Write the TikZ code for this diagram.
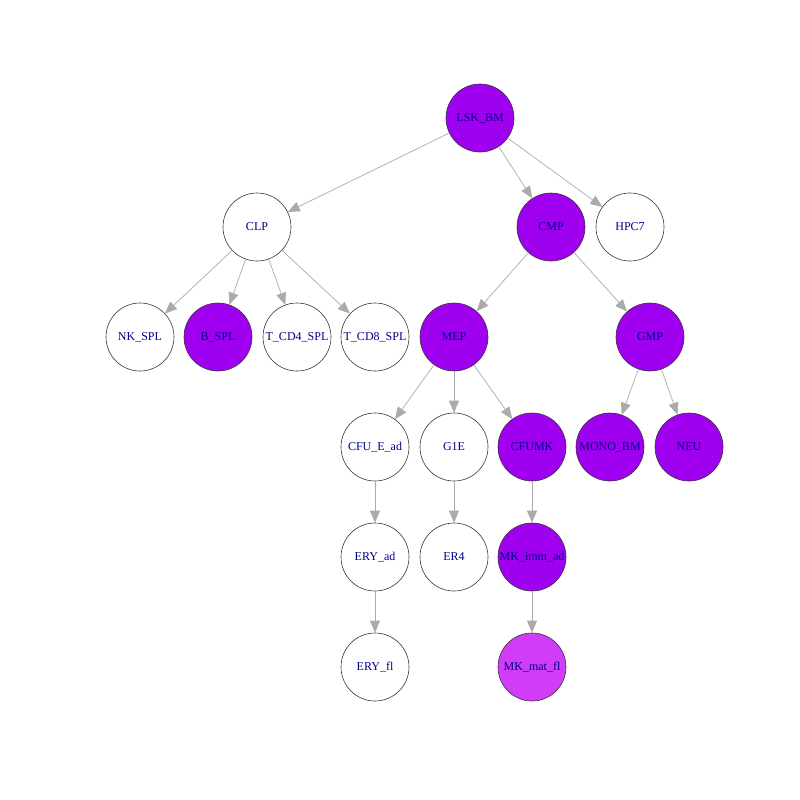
\documentclass[tikz,border=0pt]{standalone}
\usepackage{fontspec}
\setmainfont{Liberation Serif}
\usetikzlibrary{arrows.meta}
\definecolor{vpurple}{HTML}{A000F0}
\definecolor{vpink}{HTML}{D03CF8}
\definecolor{vlabel}{HTML}{00008B}
\definecolor{vedge}{HTML}{ABABAB}
\begin{document}
\begin{tikzpicture}[x=1pt,y=-1pt,
  cell/.style={circle,draw=black!80,line width=0.6pt,minimum size=68pt,inner sep=0pt,
    font=\fontsize{12}{12}\selectfont,text=vlabel,fill=white},
  hot/.style={cell,fill=vpurple},
  warm/.style={cell,fill=vpink},
  link/.style={draw=vedge,line width=0.7pt,-{Triangle[length=12pt,width=10pt]}}]
\useasboundingbox (0,0) rectangle (800,800);
\node[hot]  (lsk)  at (480,118) {LSK\_BM};
\node[cell] (clp)  at (257,227) {CLP};
\node[hot]  (cmp)  at (551,227) {CMP};
\node[cell] (hpc)  at (630,227) {HPC7};
\node[cell] (nk)   at (140,337) {NK\_SPL};
\node[hot]  (bspl) at (218,337) {B\_SPL};
\node[cell] (cd4)  at (297,337) {T\_CD4\_SPL};
\node[cell] (cd8)  at (375,337) {T\_CD8\_SPL};
\node[hot]  (mep)  at (454,337) {MEP};
\node[hot]  (gmp)  at (650,337) {GMP};
\node[cell] (cfue) at (375,447) {CFU\_E\_ad};
\node[cell] (gie)  at (454,447) {G1E};
\node[hot]  (cfumk) at (532,447) {CFUMK};
\node[hot]  (mono) at (610,447) {MONO\_BM};
\node[hot]  (neu)  at (689,447) {NEU};
\node[cell] (eryad) at (375,557) {ERY\_ad};
\node[cell] (erf)  at (454,557) {ER4};
\node[hot]  (mkimm) at (532,557) {MK\_imm\_ad};
\node[cell] (eryfl) at (375,667) {ERY\_fl};
\node[warm] (mkmat) at (532,667) {MK\_mat\_fl};
\foreach \a/\b in {lsk/clp,lsk/cmp,lsk/hpc,clp/nk,clp/bspl,clp/cd4,clp/cd8,
  cmp/mep,cmp/gmp,mep/cfue,mep/gie,mep/cfumk,gmp/mono,gmp/neu,
  cfue/eryad,gie/erf,cfumk/mkimm,eryad/eryfl,mkimm/mkmat}
  \draw[link] (\a) -- (\b);
\end{tikzpicture}
\end{document}
